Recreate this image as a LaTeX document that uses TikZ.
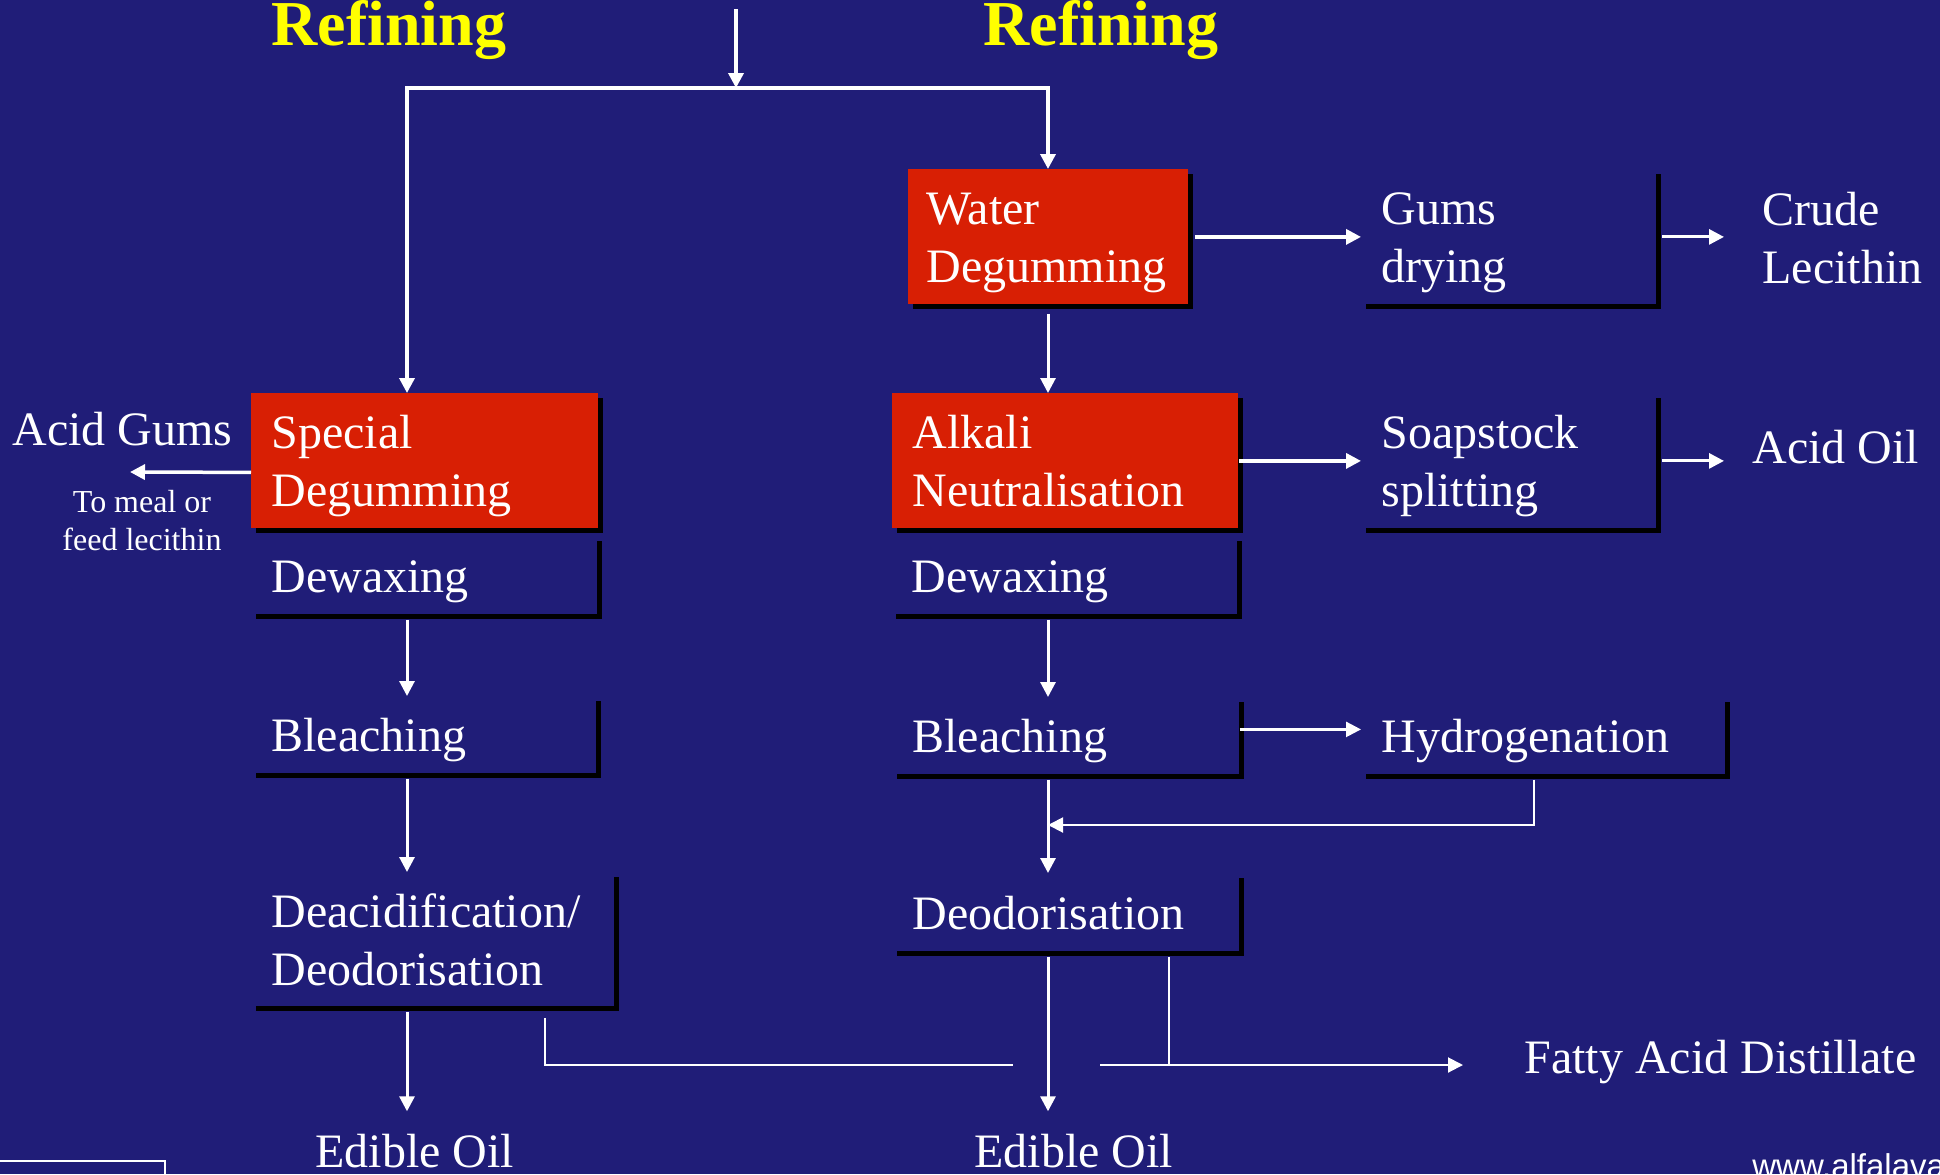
\documentclass[tikz,border=0pt]{standalone}
\usepackage{fontspec}
\setmainfont{Liberation Serif}
\newfontfamily\sansf{Liberation Sans}
\usetikzlibrary{arrows.meta,shadows,calc}
\definecolor{bgblue}{HTML}{201D78}
\definecolor{boxred}{HTML}{D81F04}
\definecolor{titleyellow}{HTML}{FFFF00}
\hyphenpenalty=10000 \exhyphenpenalty=10000
\begin{document}
\begin{tikzpicture}[x=0.5pt,y=-0.5pt,
  tip/.style={-{Triangle[length=7.5pt,width=7.5pt]}},
  stepbox/.style={rectangle, anchor=north west, inner xsep=10pt, inner ysep=0pt,
    align=left, text=white, font=\fontsize{24}{29}\selectfont,
    execute at begin node={\rule{0pt}{23pt}},
    execute at end node={\rule[-6pt]{0pt}{6pt}},
    drop shadow={shadow xshift=2.5pt, shadow yshift=-2.5pt, fill=black, opacity=1}},
  redbox/.style={stepbox, fill=boxred},
  plainbox/.style={stepbox, fill=bgblue},
  lbl/.style={inner sep=0pt, text=white, font=\fontsize{24}{29}\selectfont, align=left, anchor=base west},
  title/.style={inner sep=0pt, text=titleyellow, font=\fontsize{32}{38}\selectfont\bfseries, anchor=base west},
  small/.style={inner sep=0pt, text=white, font=\fontsize{16}{19}\selectfont, align=center, anchor=base},
  thickflow/.style={draw=white, line width=1.75pt},
  flow/.style={draw=white, line width=1.5pt},
  midflow/.style={draw=white, line width=1.25pt},
  thinflow/.style={draw=white, line width=1pt}
]
\useasboundingbox (0,0) rectangle (1940,1174);
\fill[bgblue] (0,0) rectangle (1940,1174);
\clip (0,0) rectangle (1940,1174);

% titles
\node[title] (t1) at (271,45) {Refining};
\node[title] (t2) at (983,45) {Refining};

% left column
\node[redbox, text width=153.5pt, minimum height=67.5pt] (sd) at (251,393) {Special\\Degumming};
\node[plainbox, text width=153pt, minimum height=39pt] (dwl) at (251,536) {Dewaxing};
\node[plainbox, text width=152.5pt, minimum height=38.5pt] (bll) at (251,696) {Bleaching};
\node[plainbox, text width=161.5pt, minimum height=67pt] (dal) at (251,872) {Deacidification/\\Deodorisation};
\node[lbl, inner ysep=11pt] (eol) at (315,1167) {Edible Oil};

% right column
\node[redbox, inner xsep=9pt, text width=122pt, minimum height=67.5pt] (wd) at (908,169) {Water\\Degumming};
\node[redbox, text width=153pt, minimum height=67.5pt] (an) at (892,393) {Alkali\\Neutralisation};
\node[plainbox, text width=153pt, minimum height=39pt] (dwr) at (891,536) {Dewaxing};
\node[plainbox, text width=153.5pt, minimum height=38.5pt] (blr) at (892,697) {Bleaching};
\node[plainbox, text width=153.5pt, minimum height=39pt] (deo) at (892,873) {Deodorisation};
\node[lbl, inner ysep=11pt] (eor) at (974,1167) {Edible Oil};

% side column
\node[plainbox, text width=127.5pt, minimum height=67.5pt] (gd) at (1361,169) {Gums\\drying};
\node[plainbox, text width=127.5pt, minimum height=67.5pt] (ss) at (1361,393) {Soapstock\\splitting};
\node[plainbox, text width=162pt, minimum height=38.5pt] (hy) at (1361,697) {Hydrogenation};

% products (base anchor of a two-line node = last line)
\node[lbl] (cl) at (1762,283) {Crude\\Lecithin};
\node[lbl] (ao) at (1752,463) {Acid Oil};
\node[lbl] (fad) at (1524,1073) {Fatty Acid Distillate};
\node[lbl] (ag) at (12,445) {Acid Gums};
\node[small] (meal) at (142,550) {To meal or\\feed lecithin};
\node[inner sep=0pt, text=white, anchor=base west, font=\sansf\fontsize{16.5}{20}\selectfont] (www) at (1752,1177) {www.alfalava};

% helper coordinates
\coordinate (feed) at (736,9);
\coordinate (split) at (736,88);
\coordinate (lx) at (407,0);
\coordinate (rx) at (1048,0);
\coordinate (agtip) at (130,472);
\coordinate (hx) at (1534,0);
\coordinate (merge) at (1048,825);
\coordinate (ldx) at (545,0);
\coordinate (fx) at (1169,0);
\coordinate (gapL) at (1013,1065);
\coordinate (gapR) at (1100,1065);

% connectors
\draw[thickflow,tip] (feed) -- (split);
\draw[thickflow,tip] (split) -| (sd.north -| lx);
\draw[thickflow,tip] (split) -| (wd.north -| rx);
\draw[thickflow,tip] ([yshift=-5.75pt]sd.west) -- (agtip);

\draw[flow,tip,shorten <=2.5pt] (dwl.south -| lx) -- (bll.north -| lx);
\draw[flow,tip,shorten <=2.5pt] (bll.south -| lx) -- (dal.north -| lx);
\draw[flow,tip,shorten <=2.5pt] (dal.south -| lx) -- (eol.north -| lx);

\draw[flow,tip,shorten <=4.5pt] (wd.south -| rx) -- (an.north -| rx);
\draw[thickflow,tip,shorten <=3pt] (wd.east) -- (gd.west);
\draw[flow,tip,shorten <=2.5pt,shorten >=19pt] (gd.east) -- (gd.east -| cl.west);
\draw[thickflow,tip] (an.east) -- (ss.west);
\draw[flow,tip,shorten <=2.5pt,shorten >=14pt] (ss.east) -- (ss.east -| ao.west);

\draw[flow,tip,shorten <=2.5pt] (dwr.south -| rx) -- (blr.north -| rx);
\draw[flow,tip,shorten <=2.5pt] (blr.south -| rx) -- (deo.north -| rx);
\draw[flow,tip,shorten <=2.5pt] (deo.south -| rx) -- (eor.north -| rx);
\draw[midflow,tip] ([yshift=3.25pt]blr.east) -- ([yshift=3.25pt]hy.west);
\draw[thinflow,tip,shorten <=2.5pt] (hy.south -| hx) |- (merge);

\draw[thinflow,shorten <=5.5pt] (dal.south -| ldx) |- (gapL);
\draw[thinflow,shorten <=2.5pt] (deo.south -| fx) -- (fx |- gapR);
\draw[thinflow,tip,shorten >=30.5pt] (gapR) -- (gapR -| fad.west);

% partial frame bottom left
\draw[white,line width=0.6pt] (0,1161) -- (165,1161) -- (165,1190);
\end{tikzpicture}
\end{document}
